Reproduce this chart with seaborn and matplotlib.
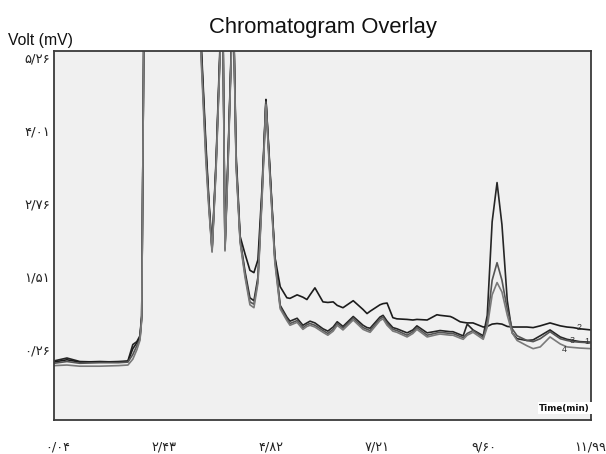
import numpy as np
import pandas as pd
import matplotlib
matplotlib.use("Agg")
import matplotlib.pyplot as plt
import seaborn as sns

# ---------------- data ----------------
time_min = [
    -0.05, 0.24, 0.53, 0.98, 1.40, 1.61, 1.72, 1.81, 1.88, 1.92,
    1.98, 3.20, 3.25, 3.36, 3.43, 3.50, 3.59, 3.68, 3.72, 3.75,
    3.79, 3.86, 3.93, 3.97, 4.04, 4.13, 4.24, 4.35, 4.44, 4.53,
    4.62, 4.71, 4.80, 4.91,
    5.03, 5.18, 5.25, 5.41, 5.54, 5.63, 5.70, 5.81, 5.99, 6.10,
    6.22, 6.31, 6.44, 6.67, 6.89, 6.98, 7.05, 7.27, 7.34, 7.43,
    7.56, 7.65, 7.88, 8.01, 8.10, 8.33, 8.55, 8.62, 8.85, 8.91,
    9.07, 9.14, 9.23, 9.36, 9.59, 9.68, 9.79, 9.90, 10.01, 10.13,
    10.24, 10.35, 10.57, 10.71, 10.87, 11.09, 11.32, 11.47, 11.61, 11.76,
    12.01,
]

trace_1 = [
    0.07, 0.12, 0.06, 0.05, 0.06, 0.07, 0.35, 0.40, 0.50, 0.85,
    7.0, 7.0, 5.6, 3.8, 2.8, 2.0, 3.5, 5.5, 6.5, 5.4,
    2.02, 3.6, 5.4, 6.5, 3.5, 2.15, 1.6, 1.15, 1.10, 1.5,
    2.9, 4.54, 3.3, 1.85,
    1.02, 0.82, 0.75, 0.80, 0.68, 0.72, 0.75, 0.72, 0.62, 0.58,
    0.65, 0.74, 0.66, 0.83, 0.68, 0.64, 0.63, 0.82, 0.85, 0.75,
    0.64, 0.62, 0.55, 0.60, 0.67, 0.55, 0.58, 0.59, 0.57, 0.57,
    0.52, 0.50, 0.70, 0.60, 0.50, 0.85, 2.45, 3.12, 2.40, 1.10,
    0.55, 0.45, 0.42, 0.43, 0.50, 0.60, 0.48, 0.44, 0.42, 0.40,
    0.39,
]

trace_2 = [
    0.05, 0.09, 0.05, 0.06, 0.05, 0.06, 0.28, 0.38, 0.47, 0.83,
    7.0, 7.0, 5.5, 3.7, 2.75, 1.97, 3.45, 5.4, 6.5, 5.4,
    2.0, 3.55, 5.35, 6.5, 3.6, 2.2, 1.9, 1.62, 1.58, 1.8,
    3.0, 4.54, 3.35, 1.85,
    1.34, 1.15, 1.14, 1.20, 1.16, 1.12, 1.20, 1.32, 1.08, 1.07,
    1.08, 1.02, 0.98, 1.10, 0.95, 0.88, 0.92, 1.03, 1.05, 1.06,
    0.81, 0.79, 0.78, 0.77, 0.78, 0.77, 0.86, 0.85, 0.83, 0.81,
    0.74, 0.73, 0.72, 0.72, 0.65, 0.66, 0.70, 0.71, 0.70, 0.66,
    0.65, 0.65, 0.65, 0.64, 0.67, 0.72, 0.67, 0.65, 0.64, 0.62,
    0.60,
]

trace_3 = [
    0.03, 0.06, 0.03, 0.04, 0.04, 0.05, 0.18, 0.33, 0.44, 0.80,
    7.0, 7.0, 5.4, 3.6, 2.7, 1.95, 3.4, 5.35, 6.5, 5.3,
    1.97, 3.5, 5.3, 6.5, 3.45, 2.12, 1.55, 1.08, 1.04, 1.45,
    2.85, 4.50, 3.25, 1.8,
    0.99, 0.79, 0.71, 0.76, 0.64, 0.69, 0.71, 0.68, 0.59, 0.54,
    0.61, 0.71, 0.63, 0.80, 0.64, 0.61, 0.59, 0.79, 0.82, 0.71,
    0.61, 0.59, 0.51, 0.57, 0.64, 0.51, 0.55, 0.56, 0.54, 0.54,
    0.49, 0.47, 0.54, 0.59, 0.47, 0.72, 1.45, 1.75, 1.45, 0.95,
    0.62, 0.50, 0.42, 0.40, 0.45, 0.57, 0.45, 0.42, 0.40, 0.39,
    0.38,
]

trace_4 = [
    -0.01, 0.00, -0.02, -0.02, -0.01, 0.00, 0.10, 0.26, 0.42, 0.78,
    7.0, 7.0, 5.3, 3.5, 2.65, 1.93, 3.35, 5.3, 6.5, 5.3,
    1.95, 3.45, 5.25, 6.5, 3.4, 2.1, 1.5, 1.03, 0.98, 1.4,
    2.8, 4.45, 3.2, 1.75,
    0.96, 0.76, 0.68, 0.73, 0.61, 0.66, 0.68, 0.65, 0.56, 0.51,
    0.58, 0.68, 0.60, 0.77, 0.61, 0.58, 0.56, 0.76, 0.79, 0.68,
    0.58, 0.56, 0.48, 0.54, 0.61, 0.48, 0.52, 0.53, 0.51, 0.51,
    0.46, 0.44, 0.51, 0.56, 0.44, 0.65, 1.20, 1.41, 1.25, 0.85,
    0.55, 0.42, 0.33, 0.28, 0.31, 0.48, 0.36, 0.31, 0.30, 0.29,
    0.28,
]

trace_names = ["1", "2", "3", "4"]
y_tick_values = [0.26, 1.51, 2.76, 4.01, 5.26]
y_tick_labels = ["۰/۲۶", "۱/۵۱", "۲/۷۶", "۴/۰۱", "۵/۲۶"]
x_tick_values = [0.04, 2.43, 4.82, 7.21, 9.60, 11.99]
x_tick_labels = ["۰/۰۴", "۲/۴۳", "۴/۸۲", "۷/۲۱", "۹/۶۰", "۱۱/۹۹"]

# ---------------- build long-form table ----------------
series = [trace_1, trace_2, trace_3, trace_4]
df = pd.concat(
    [pd.DataFrame({"time": time_min, "volt": s, "trace": n})
     for n, s in zip(trace_names, series)],
    ignore_index=True,
)

# ---------------- figure ----------------
sns.set_style("white")
plt.rcParams["font.family"] = ["Liberation Sans", "DejaVu Sans"]

W, H = 606, 454
fig = plt.figure(figsize=(W / 100, H / 100), dpi=100)
fig.patch.set_facecolor("white")
ax = fig.add_axes([54 / W, 34 / H, 537 / W, 369 / H])
ax.set_facecolor("#f0f0f0")

palette = {"1": "#262626", "2": "#1c1c1c", "3": "#555555", "4": "#7a7a7a"}
sns.lineplot(data=df, x="time", y="volt", hue="trace", palette=palette,
             estimator=None, sort=False, legend=False, linewidth=1.2, ax=ax)

ax.set_xlim(-0.05, 12.01)
ax.set_ylim(-0.94, 5.37)

ax.set_xticks(x_tick_values)
ax.set_xticklabels(x_tick_labels, family=["DejaVu Sans"], fontsize=9.3, color="#222222")
ax.set_yticks(y_tick_values)
ax.set_yticklabels(y_tick_labels, family=["DejaVu Sans"], fontsize=9.5, color="#222222")
ax.tick_params(axis="x", length=0, pad=14.5)
ax.tick_params(axis="y", length=0, pad=3)
ax.set_xlabel("")
ax.set_ylabel("")

for sp in ax.spines.values():
    sp.set_color("#3a3a3a")
    sp.set_linewidth(1.3)

# curve labels near the right end
label_pos = {"2": (11.75, 0.64), "3": (11.58, 0.42), "1": (11.92, 0.40), "4": (11.42, 0.26)}
for name, (lx, ly) in label_pos.items():
    ax.text(lx, ly, name, fontsize=6.5, color="#333333", ha="center", va="center")

# axis captions
ax.text(0.998, 0.02, "Time(min)", transform=ax.transAxes, ha="right", va="bottom",
        fontsize=6.3, fontweight="bold", family=["DejaVu Sans"], color="#111111",
        bbox=dict(facecolor="white", edgecolor="none", pad=1.2))
fig.text(8 / W, 1 - 45 / H, "Volt (mV)", ha="left", va="baseline",
         fontsize=11.3, color="#111111")
fig.text(322.5 / W, 1 - 33 / H, "Chromatogram Overlay", ha="center", va="baseline",
         fontsize=15.8, color="#111111")

fig.savefig("out.png", dpi=100)
